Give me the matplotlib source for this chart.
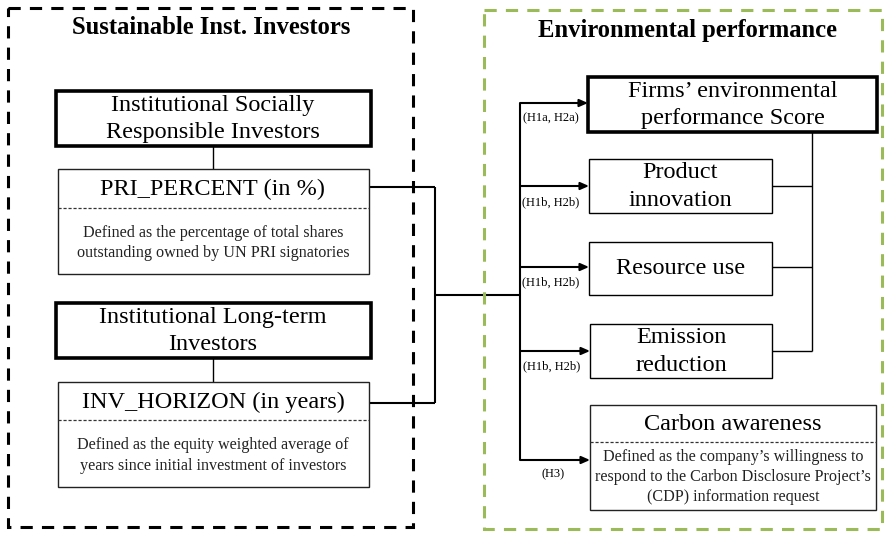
import matplotlib
matplotlib.use("Agg")
import matplotlib.pyplot as plt
from matplotlib.patches import Rectangle

# ---- content ----
left_title = "Sustainable Inst. Investors"
right_title = "Environmental performance"
investor_groups = ["Institutional Socially\nResponsible Investors",
                   "Institutional Long-term\nInvestors"]
investor_measures = ["PRI_PERCENT (in %)", "INV_HORIZON (in years)"]
investor_defs = ["Defined as the percentage of total shares\noutstanding owned by UN PRI signatories",
                 "Defined as the equity weighted average of\nyears since initial investment of investors"]
outcomes = ["Firms\u2019 environmental\nperformance Score", "Product\ninnovation",
            "Resource use", "Emission\nreduction"]
carbon_title = "Carbon awareness"
carbon_def = "Defined as the company\u2019s willingness to\nrespond to the Carbon Disclosure Project\u2019s\n(CDP) information request"
hyp_labels = ["(H1a, H2a)", "(H1b, H2b)", "(H1b, H2b)", "(H1b, H2b)", "(H3)"]

plt.rcParams['font.family'] = ['Liberation Serif', 'DejaVu Serif']

W, H = 889, 533
fig = plt.figure(figsize=(W / 100, H / 100), dpi=100)
ax = fig.add_axes([0, 0, 1, 1])
ax.set_xlim(0, W)
ax.set_ylim(H, 0)
ax.axis('off')

GREEN = '#9BBB59'
BIG = 17.5
SMALL = 11.6

def rect(x0, y0, x1, y1, lw=1.0, ec='#222222', ls='-', z=2):
    ax.add_patch(Rectangle((x0, y0), x1 - x0, y1 - y0, fill=False, lw=lw,
                           ec=ec, ls=ls, zorder=z))

def line(xs, ys, lw=1.5, c='black'):
    ax.plot(xs, ys, color=c, lw=lw, solid_capstyle='butt', zorder=1)

# outer dashed frames
rect(8, 8, 413, 527, lw=2.2, ec='black', ls=(0, (4, 3)))
rect(484, 10, 882, 529, lw=2.2, ec=GREEN, ls=(0, (4, 3)))
ax.text(211, 28, left_title, ha='center', va='center', fontsize=17.7, fontweight='bold')
ax.text(687, 31, right_title, ha='center', va='center', fontsize=17.7, fontweight='bold')

# left side boxes
grp_y = [(91, 146), (303, 358)]
meas_y = [(169, 274, 208), (382, 487, 420)]
for i in range(2):
    g0, g1 = grp_y[i]
    rect(56, g0, 371, g1, lw=2.6, ec='black')
    ax.text(213, (g0 + g1) / 2 + 0.5, investor_groups[i], ha='center', va='center',
            fontsize=BIG, linespacing=1.4)
    line([213, 213], [g1, meas_y[i][0]], lw=1.0)
    m0, m1, sep = meas_y[i]
    rect(58, m0, 369, m1, lw=1.0)
    ax.plot([58, 369], [sep, sep], color='#333333', lw=0.9, ls=(0, (2.5, 1.5)), zorder=2)
    ax.text(213, (m0 + sep) / 2 + 1, investor_measures[i], ha='center', va='center',
            fontsize=BIG)
    ax.text(213, (sep + m1) / 2 + 2, investor_defs[i], ha='center', va='center',
            fontsize=SMALL, linespacing=1.38, color='#222222')

# connectors left -> junction
line([369, 435], [187, 187])
line([369, 435], [403, 403])
line([435, 435], [187, 403])
line([435, 520], [295, 295])
line([520, 520], [103, 460])

# right side boxes
out_boxes = [(588, 77, 877, 132, 2.6), (589, 159, 772, 213, 1.0),
             (589, 242, 772, 295, 1.0), (590, 324, 772, 378, 1.0)]
arrow_y = [103, 186, 267, 351, 460]
label_y = [118, 202, 282, 366, 474]
label_x = [551, 551, 551, 552, 553]
for i, (x0, y0, x1, y1, lw) in enumerate(out_boxes):
    rect(x0, y0, x1, y1, lw=lw, ec='black')
    ax.text((x0 + x1) / 2, (y0 + y1) / 2 + 0.5, outcomes[i], ha='center', va='center',
            fontsize=BIG, linespacing=1.4)

# carbon awareness box
rect(590, 405, 876, 510, lw=1.0)
ax.plot([590, 876], [442, 442], color='#333333', lw=0.9, ls=(0, (2.5, 1.5)), zorder=2)
ax.text(733, 424, carbon_title, ha='center', va='center', fontsize=BIG)
ax.text(733, 477, carbon_def, ha='center', va='center', fontsize=SMALL,
        linespacing=1.34, color='#222222')

# arrows
targets_x = [588, 589, 589, 590, 590]
for i in range(5):
    ax.annotate('', xy=(targets_x[i], arrow_y[i]), xytext=(520, arrow_y[i]),
                arrowprops=dict(arrowstyle='-|>,head_length=0.5,head_width=0.22',
                                color='black', lw=1.5, shrinkA=0, shrinkB=0))
    ax.text(label_x[i], label_y[i], hyp_labels[i], ha='center', va='center',
            fontsize=9)

# right-side collector
line([812, 812], [132, 351], lw=1.0)
for y in [186, 267, 351]:
    line([772, 812], [y, y], lw=1.0)

fig.savefig('out.png', dpi=100, facecolor='white')
